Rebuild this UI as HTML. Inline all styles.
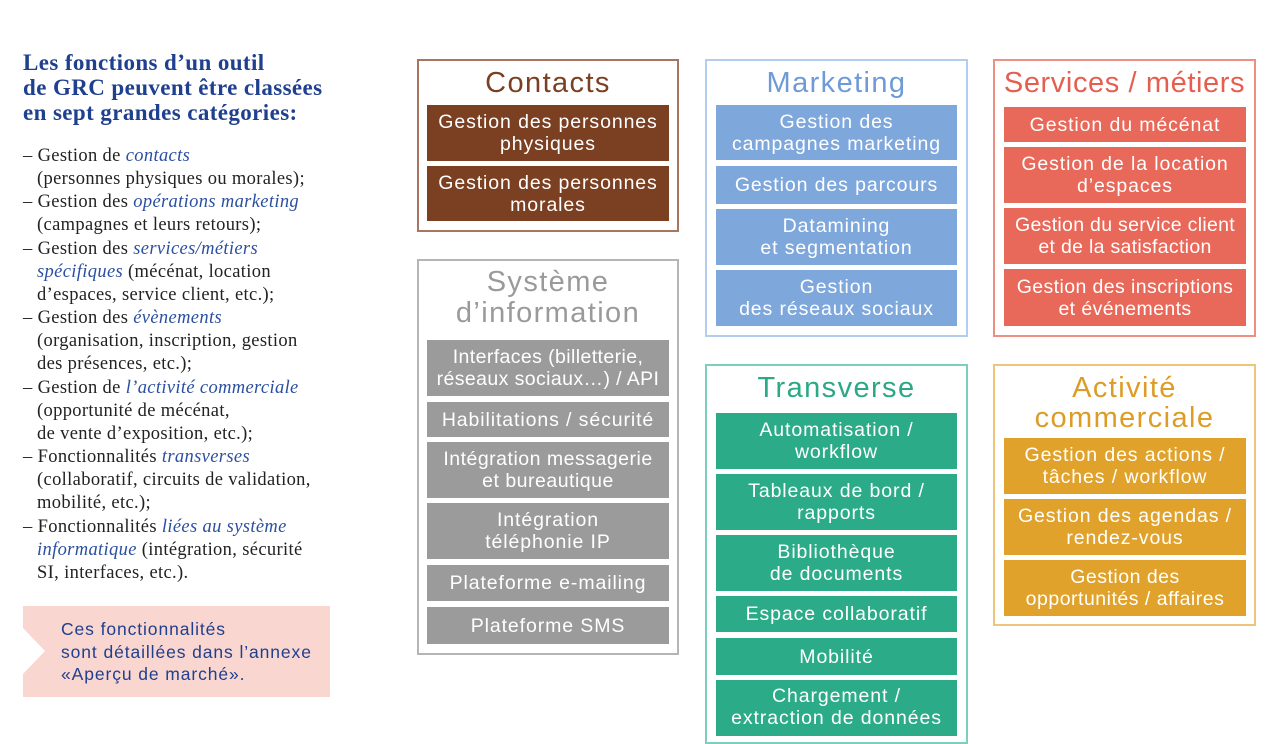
<!DOCTYPE html>
<html><head><meta charset="utf-8"><style>
*{margin:0;padding:0;box-sizing:border-box}
body{width:1280px;height:720px;overflow:hidden;background:#fff;position:relative;font-family:"Liberation Sans",sans-serif}
.p{position:absolute;border:2px solid;background:#fff}
.t{position:absolute;left:0;right:0;text-align:center;font-size:29px;line-height:31px;letter-spacing:1.4px}
.i{position:absolute;display:flex;align-items:center;justify-content:center;text-align:center;color:#fff;font-size:19.5px;line-height:22px;letter-spacing:0.9px;white-space:nowrap}
h1{position:absolute;left:23px;top:50px;font-family:"Liberation Serif",serif;font-size:23px;line-height:25px;color:#1f3f8f;font-weight:bold;letter-spacing:0.4px;white-space:nowrap}
.list{position:absolute;left:23px;top:145px;font-family:"Liberation Serif",serif;font-size:18.5px;line-height:23.15px;color:#222;letter-spacing:0.35px;white-space:nowrap}
.list div{padding-left:14px;text-indent:-14px}
.list i{color:#2a4fa0}
</style></head><body>
<h1>Les fonctions d’un outil<br>de GRC peuvent être classées<br>en sept grandes catégories:</h1>
<div class="list">
<div>– Gestion de <i>contacts</i><br>(personnes physiques ou morales);</div>
<div>– Gestion des <i>opérations marketing</i><br>(campagnes et leurs retours);</div>
<div>– Gestion des <i>services/métiers<br>spécifiques</i> (mécénat, location<br>d’espaces, service client, etc.);</div>
<div>– Gestion des <i>évènements</i><br>(organisation, inscription, gestion<br>des présences, etc.);</div>
<div>– Gestion de <i>l’activité commerciale</i><br>(opportunité de mécénat,<br>de vente d’exposition, etc.);</div>
<div>– Fonctionnalités <i>transverses</i><br>(collaboratif, circuits de validation,<br>mobilité, etc.);</div>
<div>– Fonctionnalités <i>liées au système<br>informatique</i> (intégration, sécurité<br>SI, interfaces, etc.).</div>
</div>
<div style="position:absolute;left:23px;top:606px;width:307px;height:91px;background:#f9d6cf"></div>
<div style="position:absolute;left:23px;top:628px;width:0;height:0;border-top:23px solid transparent;border-bottom:23px solid transparent;border-left:22px solid #fff"></div>
<div style="position:absolute;left:61px;top:618px;font-size:17.5px;line-height:22.5px;color:#1f3f8f;letter-spacing:0.9px;white-space:nowrap">Ces fonctionnalités<br>sont détaillées dans l’annexe<br>«Aperçu de marché».</div>

<div class="p" style="left:417px;top:59px;width:262px;height:173px;border-color:#a87560">
<div class="t" style="top:7px;color:#7b3f22">Contacts</div></div>
<div class="i" style="left:427px;top:105px;width:242px;height:56px;background:#7b3f22">Gestion des personnes<br>physiques</div>
<div class="i" style="left:427px;top:166px;width:242px;height:55px;background:#7b3f22">Gestion des personnes<br>morales</div>

<div class="p" style="left:705px;top:59px;width:263px;height:278px;border-color:#b3cdee">
<div class="t" style="top:7px;color:#6f9ad8">Marketing</div></div>
<div class="i" style="left:716px;top:105px;width:241px;height:55px;background:#7ea7dc">Gestion des<br>campagnes marketing</div>
<div class="i" style="left:716px;top:166px;width:241px;height:38px;background:#7ea7dc">Gestion des parcours</div>
<div class="i" style="left:716px;top:209px;width:241px;height:56px;background:#7ea7dc">Datamining<br>et segmentation</div>
<div class="i" style="left:716px;top:270px;width:241px;height:56px;background:#7ea7dc">Gestion<br>des réseaux sociaux</div>

<div class="p" style="left:993px;top:59px;width:263px;height:278px;border-color:#ee8f84">
<div class="t" style="top:7px;color:#e55f50;letter-spacing:0.6px">Services / métiers</div></div>
<div class="i" style="left:1004px;top:107px;width:242px;height:35px;background:#e8685a">Gestion du mécénat</div>
<div class="i" style="left:1004px;top:147px;width:242px;height:56px;background:#e8685a">Gestion de la location<br>d’espaces</div>
<div class="i" style="left:1004px;top:208px;width:242px;height:56px;background:#e8685a;letter-spacing:0.3px">Gestion du service client<br>et de la satisfaction</div>
<div class="i" style="left:1004px;top:269px;width:242px;height:57px;background:#e8685a;letter-spacing:0.4px">Gestion des inscriptions<br>et événements</div>

<div class="p" style="left:417px;top:259px;width:262px;height:396px;border-color:#b5b5b5">
<div class="t" style="top:6px;color:#9a9a9a">Système<br>d’information</div></div>
<div class="i" style="left:427px;top:340px;width:242px;height:56px;background:#9b9b9b;letter-spacing:0.4px">Interfaces (billetterie,<br>réseaux sociaux…) / API</div>
<div class="i" style="left:427px;top:402px;width:242px;height:35px;background:#9b9b9b">Habilitations / sécurité</div>
<div class="i" style="left:427px;top:442px;width:242px;height:56px;background:#9b9b9b;letter-spacing:0.5px">Intégration messagerie<br>et bureautique</div>
<div class="i" style="left:427px;top:503px;width:242px;height:56px;background:#9b9b9b">Intégration<br>téléphonie IP</div>
<div class="i" style="left:427px;top:565px;width:242px;height:36px;background:#9b9b9b">Plateforme e-mailing</div>
<div class="i" style="left:427px;top:607px;width:242px;height:37px;background:#9b9b9b">Plateforme SMS</div>

<div class="p" style="left:705px;top:364px;width:263px;height:380px;border-color:#7ccfbc">
<div class="t" style="top:7px;color:#2ba886">Transverse</div></div>
<div class="i" style="left:716px;top:413px;width:241px;height:56px;background:#2bab88">Automatisation /<br>workflow</div>
<div class="i" style="left:716px;top:474px;width:241px;height:56px;background:#2bab88">Tableaux de bord /<br>rapports</div>
<div class="i" style="left:716px;top:535px;width:241px;height:56px;background:#2bab88">Bibliothèque<br>de documents</div>
<div class="i" style="left:716px;top:596px;width:241px;height:36px;background:#2bab88">Espace collaboratif</div>
<div class="i" style="left:716px;top:638px;width:241px;height:37px;background:#2bab88">Mobilité</div>
<div class="i" style="left:716px;top:680px;width:241px;height:56px;background:#2bab88;align-items:flex-start;padding-top:5px">Chargement /<br>extraction de données</div>

<div class="p" style="left:993px;top:364px;width:263px;height:262px;border-color:#eec57a">
<div class="t" style="top:7px;color:#dc9c25;line-height:30px">Activité<br>commerciale</div></div>
<div class="i" style="left:1004px;top:438px;width:242px;height:56px;background:#e0a22a">Gestion des actions /<br>tâches / workflow</div>
<div class="i" style="left:1004px;top:499px;width:242px;height:56px;background:#e0a22a">Gestion des agendas /<br>rendez-vous</div>
<div class="i" style="left:1004px;top:560px;width:242px;height:56px;background:#e0a22a;letter-spacing:0.5px">Gestion des<br>opportunités / affaires</div>
</body></html>
